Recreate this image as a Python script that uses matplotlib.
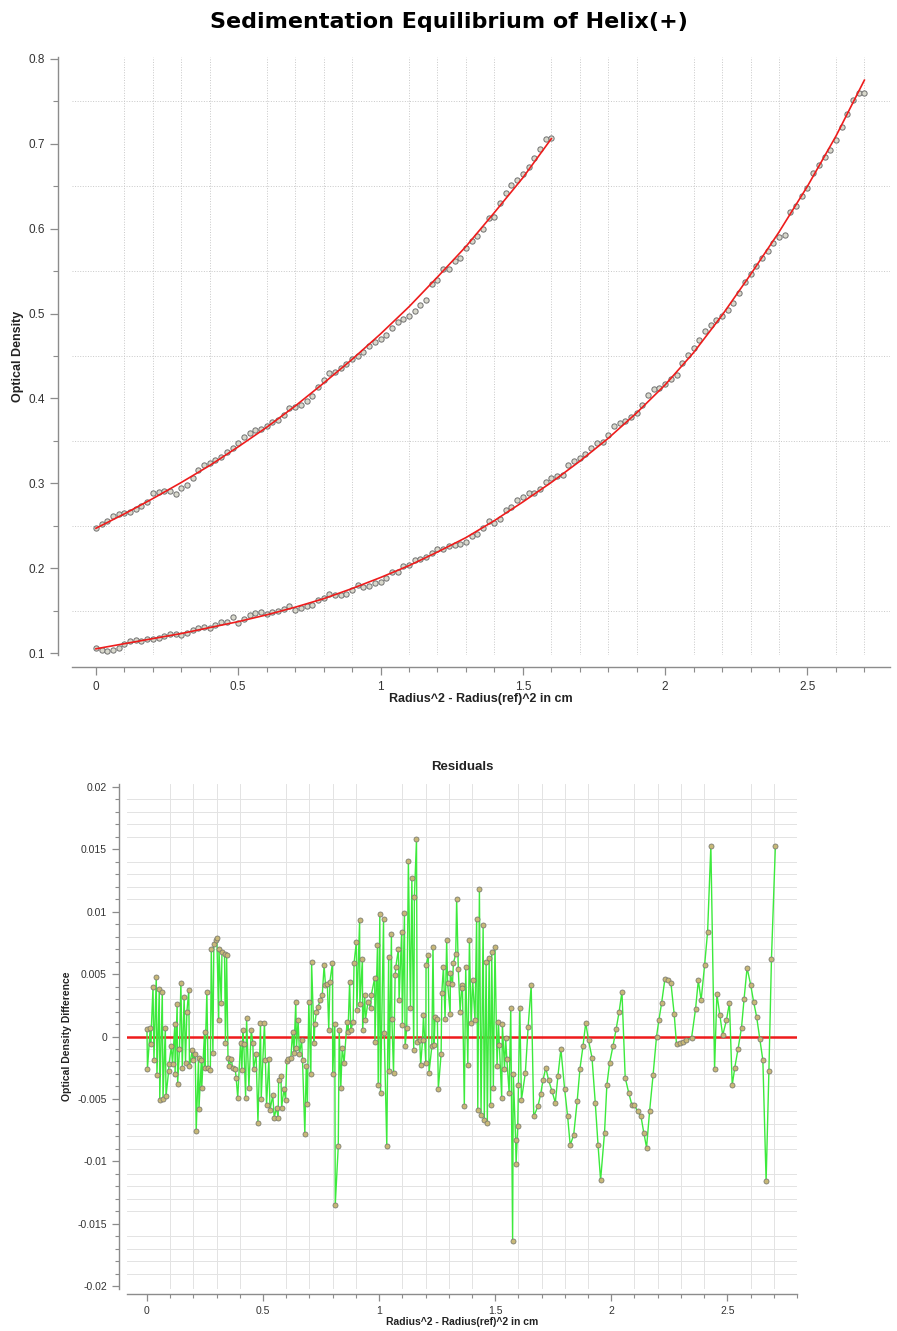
import numpy as np
import matplotlib
matplotlib.use("Agg")
import matplotlib.pyplot as plt
from matplotlib.ticker import MultipleLocator, FuncFormatter

plt.rcParams["font.family"] = ["Liberation Sans", "DejaVu Sans"]

RED = "#ee1c1c"
GREEN = "#3cea3c"
AXCOL = "#8c8c8c"
TXT = "#333333"

# ── DATA: scans (x = Radius^2 - Radius(ref)^2, every 0.02 cm^2) ─────────────
x_upper = np.round(np.arange(0, 1.601, 0.02), 2)
od_upper = [0.247, 0.252, 0.256, 0.262, 0.264, 0.265, 0.266, 0.270, 0.273, 0.278,
            0.289, 0.290, 0.291, 0.291, 0.287, 0.294, 0.298, 0.306, 0.316, 0.321,
            0.324, 0.327, 0.331, 0.337, 0.342, 0.347, 0.354, 0.359, 0.363, 0.364,
            0.368, 0.372, 0.375, 0.381, 0.389, 0.390, 0.392, 0.397, 0.403, 0.413,
            0.422, 0.430, 0.431, 0.436, 0.441, 0.446, 0.450, 0.455, 0.462, 0.466,
            0.470, 0.475, 0.483, 0.490, 0.493, 0.497, 0.503, 0.510, 0.516, 0.535,
            0.540, 0.552, 0.553, 0.562, 0.566, 0.577, 0.586, 0.591, 0.600, 0.613,
            0.614, 0.630, 0.642, 0.651, 0.657, 0.664, 0.673, 0.683, 0.694, 0.706,
            0.707]

x_lower = np.round(np.arange(0, 2.701, 0.02), 2)
od_lower = [0.106, 0.103, 0.102, 0.103, 0.106, 0.111, 0.114, 0.115, 0.114, 0.117,
            0.117, 0.118, 0.120, 0.122, 0.122, 0.121, 0.124, 0.127, 0.130, 0.131,
            0.129, 0.133, 0.136, 0.137, 0.142, 0.135, 0.140, 0.145, 0.147, 0.148,
            0.146, 0.148, 0.150, 0.152, 0.155, 0.151, 0.153, 0.155, 0.157, 0.162,
            0.165, 0.169, 0.168, 0.168, 0.170, 0.174, 0.180, 0.178, 0.179, 0.182,
            0.184, 0.188, 0.195, 0.196, 0.202, 0.204, 0.210, 0.211, 0.213, 0.218,
            0.222, 0.223, 0.226, 0.227, 0.228, 0.231, 0.238, 0.240, 0.247, 0.255,
            0.253, 0.258, 0.268, 0.272, 0.280, 0.284, 0.288, 0.289, 0.293, 0.302,
            0.306, 0.308, 0.310, 0.322, 0.326, 0.330, 0.334, 0.341, 0.347, 0.349,
            0.357, 0.367, 0.371, 0.373, 0.378, 0.383, 0.392, 0.404, 0.411, 0.412,
            0.417, 0.423, 0.428, 0.442, 0.451, 0.459, 0.469, 0.479, 0.486, 0.492,
            0.497, 0.504, 0.513, 0.524, 0.537, 0.546, 0.556, 0.566, 0.574, 0.583,
            0.590, 0.592, 0.620, 0.627, 0.639, 0.648, 0.665, 0.675, 0.685, 0.693,
            0.705, 0.720, 0.735, 0.752, 0.760, 0.760]

# fitted curves, sampled every 0.1
fit_x_upper = np.round(np.arange(0, 1.601, 0.1), 1)
fit_upper = [0.247, 0.264, 0.282, 0.301, 0.321, 0.343, 0.366, 0.391, 0.418,
             0.446, 0.476, 0.508, 0.543, 0.579, 0.619, 0.660, 0.706]
fit_x_lower = np.round(np.arange(0, 2.701, 0.1), 1)
fit_lower = [0.105, 0.111, 0.117, 0.123, 0.130, 0.137, 0.145, 0.154, 0.164,
             0.176, 0.189, 0.203, 0.219, 0.236, 0.256, 0.278, 0.301, 0.326,
             0.353, 0.383, 0.416, 0.454, 0.498, 0.546, 0.596, 0.650, 0.709,
             0.775]

# residuals (both scans, ordered by x)
res_x = [0.000, 0.002, 0.014, 0.016, 0.026, 0.030, 0.040, 0.043, 0.053, 0.055,
         0.066, 0.069, 0.079, 0.082, 0.093, 0.095, 0.105, 0.110, 0.120, 0.121,
         0.130, 0.132, 0.140, 0.146, 0.152, 0.160, 0.166, 0.172, 0.180, 0.183,
         0.195, 0.198, 0.208, 0.212, 0.222, 0.224, 0.234, 0.236, 0.248, 0.249,
         0.258, 0.263, 0.273, 0.277, 0.284, 0.288, 0.296, 0.301, 0.309, 0.310,
         0.320, 0.323, 0.334, 0.338, 0.343, 0.349, 0.354, 0.363, 0.369, 0.380,
         0.384, 0.391, 0.403, 0.409, 0.413, 0.417, 0.425, 0.429, 0.439, 0.449,
         0.456, 0.459, 0.470, 0.478, 0.489, 0.492, 0.506, 0.510, 0.515, 0.525,
         0.530, 0.542, 0.548, 0.558, 0.565, 0.567, 0.577, 0.580, 0.590, 0.597,
         0.602, 0.608, 0.620, 0.627, 0.633, 0.641, 0.644, 0.651, 0.657, 0.666,
         0.670, 0.680, 0.686, 0.691, 0.697, 0.706, 0.709, 0.720, 0.723, 0.730,
         0.737, 0.746, 0.755, 0.763, 0.769, 0.777, 0.783, 0.788, 0.799, 0.800,
         0.809, 0.811, 0.824, 0.828, 0.835, 0.841, 0.849, 0.862, 0.866, 0.873,
         0.878, 0.888, 0.892, 0.902, 0.904, 0.916, 0.917, 0.928, 0.929, 0.938,
         0.941, 0.952, 0.964, 0.966, 0.981, 0.982, 0.993, 0.996, 1.003, 1.006,
         1.019, 1.022, 1.033, 1.041, 1.044, 1.053, 1.055, 1.062, 1.069, 1.072,
         1.083, 1.086, 1.097, 1.100, 1.109, 1.112, 1.119, 1.126, 1.135, 1.141,
         1.149, 1.152, 1.161, 1.164, 1.175, 1.179, 1.187, 1.191, 1.201, 1.202,
         1.212, 1.215, 1.227, 1.232, 1.237, 1.241, 1.251, 1.255, 1.267, 1.270,
         1.277, 1.284, 1.291, 1.295, 1.306, 1.307, 1.316, 1.320, 1.330, 1.334,
         1.341, 1.349, 1.356, 1.359, 1.367, 1.373, 1.382, 1.389, 1.396, 1.403,
         1.413, 1.420, 1.425, 1.432, 1.439, 1.448, 1.453, 1.461, 1.466, 1.474,
         1.480, 1.485, 1.492, 1.499, 1.508, 1.514, 1.518, 1.528, 1.531, 1.540,
         1.545, 1.550, 1.560, 1.567, 1.575, 1.578, 1.588, 1.590, 1.597, 1.600,
         1.606, 1.613, 1.630, 1.642, 1.655, 1.666, 1.684, 1.696, 1.706, 1.718,
         1.730, 1.745, 1.759, 1.770, 1.783, 1.799, 1.812, 1.823, 1.838, 1.853,
         1.865, 1.878, 1.890, 1.902, 1.917, 1.931, 1.943, 1.954, 1.971, 1.981,
         1.993, 2.007, 2.021, 2.034, 2.046, 2.060, 2.075, 2.089, 2.100, 2.113,
         2.128, 2.140, 2.152, 2.165, 2.180, 2.195, 2.205, 2.217, 2.231, 2.244,
         2.257, 2.271, 2.281, 2.295, 2.310, 2.324, 2.346, 2.363, 2.375, 2.387,
         2.402, 2.415, 2.429, 2.445, 2.455, 2.468, 2.480, 2.496, 2.509, 2.521,
         2.532, 2.546, 2.561, 2.572, 2.585, 2.601, 2.613, 2.626, 2.640, 2.653,
         2.667, 2.679, 2.690, 2.707]
res_od = [0.0006, -0.0026, 0.0007, -0.0006, 0.0040, -0.0019, 0.0048, -0.0031, 0.0038, -0.0051,
          0.0036, -0.0050, 0.0007, -0.0048, -0.0028, -0.0022, -0.0008, -0.0022, 0.0010, -0.0030,
          0.0026, -0.0038, -0.0010, 0.0043, -0.0025, 0.0032, -0.0021, 0.0020, 0.0037, -0.0024,
          -0.0011, -0.0019, -0.0014, -0.0076, -0.0017, -0.0058, -0.0019, -0.0041, 0.0004, -0.0025,
          0.0036, -0.0025, -0.0027, 0.0070, -0.0013, 0.0074, 0.0077, 0.0079, 0.0013, 0.0070,
          0.0027, 0.0068, 0.0066, -0.0005, 0.0065, -0.0017, -0.0024, -0.0018, -0.0025, -0.0026,
          -0.0033, -0.0049, -0.0005, -0.0027, 0.0005, -0.0006, -0.0049, 0.0015, -0.0041, 0.0005,
          -0.0005, -0.0026, -0.0014, -0.0069, 0.0011, -0.0050, 0.0011, -0.0019, -0.0055, -0.0018,
          -0.0059, -0.0047, -0.0065, -0.0057, -0.0065, -0.0035, -0.0032, -0.0057, -0.0042, -0.0051,
          -0.0020, -0.0018, -0.0017, 0.0004, -0.0013, 0.0028, -0.0009, 0.0013, -0.0014, -0.0003,
          -0.0019, -0.0078, -0.0024, -0.0054, 0.0028, -0.0030, 0.0060, -0.0005, 0.0010, 0.0020,
          0.0024, 0.0029, 0.0033, 0.0057, 0.0041, 0.0042, 0.0005, 0.0044, 0.0059, -0.0030,
          0.0010, -0.0135, -0.0088, 0.0005, -0.0041, -0.0009, -0.0021, 0.0012, 0.0004, 0.0044,
          0.0005, 0.0012, 0.0059, 0.0076, 0.0021, 0.0093, 0.0026, 0.0062, 0.0005, 0.0033,
          0.0013, 0.0028, 0.0023, 0.0033, 0.0047, -0.0004, 0.0073, -0.0039, 0.0098, -0.0045,
          0.0094, 0.0003, -0.0088, 0.0064, -0.0028, 0.0082, 0.0014, -0.0029, 0.0049, 0.0056,
          0.0070, 0.0029, 0.0084, 0.0009, 0.0099, -0.0008, 0.0007, 0.0141, 0.0023, 0.0127,
          -0.0011, 0.0112, 0.0158, -0.0004, -0.0003, -0.0023, -0.0003, 0.0017, -0.0021, 0.0057,
          0.0065, -0.0029, -0.0008, 0.0072, -0.0007, 0.0016, 0.0014, -0.0042, -0.0014, 0.0035,
          0.0056, 0.0014, 0.0077, 0.0043, 0.0018, 0.0051, 0.0042, 0.0059, 0.0066, 0.0110,
          0.0054, 0.0020, 0.0041, 0.0039, -0.0056, 0.0056, -0.0023, 0.0077, 0.0011, 0.0045,
          0.0013, 0.0094, -0.0059, 0.0118, -0.0063, 0.0089, -0.0067, 0.0060, -0.0069, 0.0063,
          -0.0055, 0.0068, -0.0041, 0.0072, -0.0024, 0.0012, -0.0007, -0.0049, 0.0010, -0.0026,
          -0.0001, -0.0018, -0.0045, 0.0023, -0.0164, -0.0030, -0.0083, -0.0102, -0.0072, -0.0039,
          0.0023, -0.0051, -0.0029, 0.0008, 0.0041, -0.0064, -0.0056, -0.0046, -0.0035, -0.0025,
          -0.0035, -0.0044, -0.0053, -0.0032, -0.0010, -0.0042, -0.0064, -0.0087, -0.0079, -0.0052,
          -0.0026, -0.0008, 0.0011, -0.0003, -0.0017, -0.0053, -0.0087, -0.0115, -0.0077, -0.0039,
          -0.0021, -0.0008, 0.0006, 0.0020, 0.0036, -0.0033, -0.0045, -0.0055, -0.0055, -0.0060,
          -0.0064, -0.0077, -0.0089, -0.0060, -0.0031, 0.0000, 0.0013, 0.0027, 0.0046, 0.0045,
          0.0043, 0.0018, -0.0006, -0.0005, -0.0004, -0.0003, -0.0001, 0.0022, 0.0045, 0.0029,
          0.0057, 0.0084, 0.0153, -0.0026, 0.0034, 0.0017, 0.0001, 0.0013, 0.0027, -0.0039,
          -0.0025, -0.0010, 0.0007, 0.0030, 0.0055, 0.0041, 0.0028, 0.0016, -0.0002, -0.0019,
          -0.0116, -0.0028, 0.0062, 0.0153]

fmt = FuncFormatter(lambda v, p: f"{v:g}" if abs(v) > 1e-12 else "0")


def style_axes(ax, left_off, bottom_off, grid_ls, grid_col):
    for s in ("top", "right"):
        ax.spines[s].set_visible(False)
    ax.spines["left"].set_position(("outward", left_off))
    ax.spines["bottom"].set_position(("outward", bottom_off))
    for s in ("left", "bottom"):
        ax.spines[s].set_color(AXCOL)
        ax.spines[s].set_linewidth(1.0)
    ax.tick_params(which="major", length=6, width=0.9, color=AXCOL,
                   labelcolor=TXT, labelsize=8.5, direction="out")
    ax.tick_params(which="minor", length=3.5, width=0.8, color=AXCOL,
                   direction="out")
    ax.grid(which="minor", linestyle=grid_ls, color=grid_col, linewidth=0.7)
    ax.grid(which="major", visible=False)
    ax.set_axisbelow(True)
    ax.xaxis.set_major_formatter(fmt)
    ax.yaxis.set_major_formatter(fmt)


fig = plt.figure(figsize=(8.97, 13.31), dpi=100)
fig.patch.set_facecolor("white")

# ── PANEL 1: equilibrium scans + fits ───────────────────────────────────────
ax1 = fig.add_axes([0.0803, 0.5079, 0.9119, 0.4493])
ax1.plot(x_upper, od_upper, "o", ms=3.8, mfc="#d8d8cc", mec="#707070",
         mew=0.7, zorder=3)
ax1.plot(x_lower, od_lower, "o", ms=3.8, mfc="#d8d8cc", mec="#707070",
         mew=0.7, zorder=3)
ax1.plot(fit_x_upper, fit_upper, color=RED, lw=1.2, zorder=4)
ax1.plot(fit_x_lower, fit_lower, color=RED, lw=1.2, zorder=4)
ax1.set_xlim(-0.084, 2.79)
ax1.set_ylim(0.0977, 0.8023)
ax1.xaxis.set_major_locator(MultipleLocator(0.5))
ax1.xaxis.set_minor_locator(MultipleLocator(0.1))
ax1.yaxis.set_major_locator(MultipleLocator(0.1))
ax1.yaxis.set_minor_locator(MultipleLocator(0.05))
style_axes(ax1, 10, 9, ":", "#c8c8c8")

fig.text(0.5, 1 - 22 / 1331, "Sedimentation Equilibrium of Helix(+)",
         ha="center", va="center", fontsize=16, fontweight="heavy",
         family="DejaVu Sans", color="black")
fig.text(481 / 897, 1 - 699 / 1331, "Radius^2 - Radius(ref)^2 in cm",
         ha="center", va="center", fontsize=9, fontweight="bold", color="#222222")
fig.text(18 / 897, 1 - 356 / 1331, "Optical Density", rotation=90,
         ha="center", va="center", fontsize=9, fontweight="bold", color="#222222")

# ── PANEL 2: residuals ──────────────────────────────────────────────────────
ax2 = fig.add_axes([0.1416, 0.0319, 0.7469, 0.3787])
ax2.axhline(0, color=RED, lw=1.8, zorder=2)
ax2.plot(res_x, res_od, "-o", color=GREEN, lw=1.0, ms=3.6, mfc="#c8b878",
         mec="#7d7d70", mew=0.6, zorder=3)
ax2.set_xlim(-0.086, 2.80)
ax2.set_ylim(-0.0202, 0.0202)
ax2.xaxis.set_major_locator(MultipleLocator(0.5))
ax2.xaxis.set_minor_locator(MultipleLocator(0.1))
ax2.yaxis.set_major_locator(MultipleLocator(0.005))
ax2.yaxis.set_minor_locator(MultipleLocator(0.001))
style_axes(ax2, 6, 4, "-", "#e3e3e3")
ax2.tick_params(which="major", labelsize=7.5, length=5)
ax2.tick_params(which="minor", length=3)

fig.text(462 / 897, 1 - 767 / 1331, "Residuals", ha="center", va="center",
         fontsize=9.5, fontweight="bold", color="#222222")
fig.text(462 / 897, 1 - 1322 / 1331, "Radius^2 - Radius(ref)^2 in cm",
         ha="center", va="center", fontsize=7.5, fontweight="bold", color="#222222")
fig.text(67 / 897, 1 - 1036 / 1331, "Optical Density Difference", rotation=90,
         ha="center", va="center", fontsize=7.5, fontweight="bold", color="#222222")

fig.savefig("out.png", dpi=100, facecolor="white")
